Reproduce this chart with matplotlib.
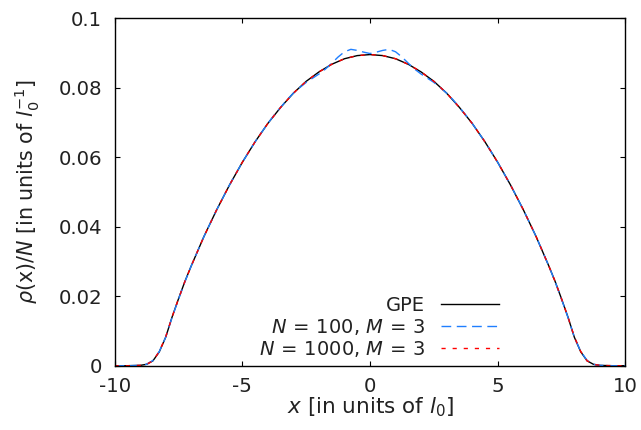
import matplotlib
matplotlib.use("Agg")
import matplotlib.pyplot as plt

# densidad GPE (y N=1000)
x_gpe = [-10, -9.5, -9, -8.75, -8.5, -8.25, -8, -7.75, -7.5, -7.25, -7,
         -6.5, -6, -5.5, -5, -4.5, -4, -3.5, -3, -2.5, -2, -1.5, -1, -0.5,
         0, 0.5, 1, 1.5, 2, 2.5, 3, 3.5, 4, 4.5, 5, 5.5, 6, 6.5,
         7, 7.25, 7.5, 7.75, 8, 8.25, 8.5, 8.75, 9, 9.5, 10]
rho_gpe = [0, 0, 0.0001, 0.0004, 0.0014, 0.0040, 0.0082, 0.0140, 0.0192, 0.0242, 0.0287,
           0.0372, 0.0449, 0.0520, 0.0585, 0.0644, 0.0697, 0.0743, 0.0784, 0.0818, 0.0845, 0.0867, 0.0883, 0.0892,
           0.0895, 0.0892, 0.0883, 0.0867, 0.0845, 0.0818, 0.0784, 0.0743, 0.0697, 0.0644, 0.0585, 0.0520, 0.0449, 0.0372,
           0.0287, 0.0242, 0.0192, 0.0140, 0.0082, 0.0040, 0.0014, 0.0004, 0.0001, 0, 0]
rho_n1000 = [0, 0, 0.0001, 0.0004, 0.0014, 0.0041, 0.0083, 0.0140, 0.0192, 0.0242, 0.0287,
             0.0372, 0.0449, 0.0520, 0.0585, 0.0644, 0.0697, 0.0743, 0.0784, 0.0818, 0.0845, 0.0867, 0.0883, 0.0892,
             0.0895, 0.0892, 0.0883, 0.0867, 0.0845, 0.0818, 0.0784, 0.0743, 0.0697, 0.0644, 0.0585, 0.0520, 0.0449, 0.0372,
             0.0287, 0.0242, 0.0192, 0.0140, 0.0083, 0.0041, 0.0014, 0.0004, 0.0001, 0, 0]

# N=100 tiene oscilaciones cerca del centro
x_n100 = [-10, -9.5, -9, -8.75, -8.5, -8.25, -8, -7.75, -7.5, -7.25, -7,
          -6.5, -6, -5.5, -5, -4.5, -4, -3.75, -3.5, -3.25, -3, -2.75, -2.5, -2.25,
          -2, -1.75, -1.5, -1.25, -1, -0.75, -0.5, -0.25, 0, 0.25, 0.5, 0.75,
          1, 1.25, 1.5, 1.75, 2, 2.25, 2.5, 2.75, 3, 3.25, 3.5, 3.75, 4,
          4.5, 5, 5.5, 6, 6.5, 7, 7.25, 7.5, 7.75, 8, 8.25, 8.5, 8.75, 9, 9.5, 10]
rho_n100 = [0, 0, 0.0001, 0.0004, 0.0015, 0.0041, 0.0082, 0.0139, 0.0191, 0.0241, 0.0287,
            0.0372, 0.0449, 0.0520, 0.0585, 0.0644, 0.0697, 0.0721, 0.0743, 0.0765, 0.0784, 0.0800, 0.0815, 0.0827,
            0.0839, 0.0853, 0.0870, 0.0888, 0.0903, 0.0910, 0.0907, 0.0902, 0.0898, 0.0902, 0.0907, 0.0910,
            0.0903, 0.0888, 0.0870, 0.0853, 0.0839, 0.0827, 0.0815, 0.0800, 0.0784, 0.0765, 0.0743, 0.0721, 0.0697,
            0.0644, 0.0585, 0.0520, 0.0449, 0.0372, 0.0287, 0.0241, 0.0191, 0.0139, 0.0082, 0.0041, 0.0015, 0.0004, 0.0001, 0, 0]

x_ticks = [-10, -5, 0, 5, 10]
x_ticklabels = ["-10", "-5", "0", "5", "10"]
y_ticks = [0, 0.02, 0.04, 0.06, 0.08, 0.1]
y_ticklabels = ["0", "0.02", "0.04", "0.06", "0.08", "0.1"]

plt.rcParams["font.family"] = "DejaVu Sans"
plt.rcParams["mathtext.fontset"] = "dejavusans"
txt = "#222222"

fig = plt.figure(figsize=(6.41, 4.30), dpi=100)
ax = fig.add_axes([0.1788, 0.1495, 0.7969, 0.8085])

ax.plot(x_gpe, rho_gpe, color="black", lw=1.0, label="GPE")
ax.plot(x_n100, rho_n100, color="#1f7fff", lw=1.0, dashes=(7, 4),
        label=r"$N\,=\,100$, $M\,=\,3$")
ax.plot(x_gpe, rho_n1000, color="#ff0000", lw=1.0, dashes=(3, 5),
        label=r"$N\,=\,1000$, $M\,=\,3$")

ax.set_xlim(-10, 10)
ax.set_ylim(0, 0.1)
ax.set_xticks(x_ticks)
ax.set_xticklabels(x_ticklabels)
ax.set_yticks(y_ticks)
ax.set_yticklabels(y_ticklabels)
ax.tick_params(direction="in", length=3.6, width=0.8, labelsize=14.2,
               labelcolor=txt, top=True, right=True)
ax.tick_params(axis="y", pad=9)
ax.tick_params(axis="x", pad=8)
for s in ax.spines.values():
    s.set_linewidth(1.0)

ax.set_xlabel(r"$x$ [in units of $l_0$]", fontsize=15.5, color=txt, labelpad=0)
ax.set_ylabel(r"$\rho$(x)/$N$ [in units of $l_0^{-1}$]", fontsize=14.9,
              color=txt, labelpad=12)

leg = ax.legend(loc="lower right", bbox_to_anchor=(0.753, 0.02),
                frameon=False, markerfirst=False, fontsize=14,
                handlelength=3.0, handletextpad=0.8, labelspacing=0.1,
                borderpad=0, borderaxespad=0)
for t in leg.get_texts():
    t.set_color(txt)

fig.savefig("out.png", dpi=100)
